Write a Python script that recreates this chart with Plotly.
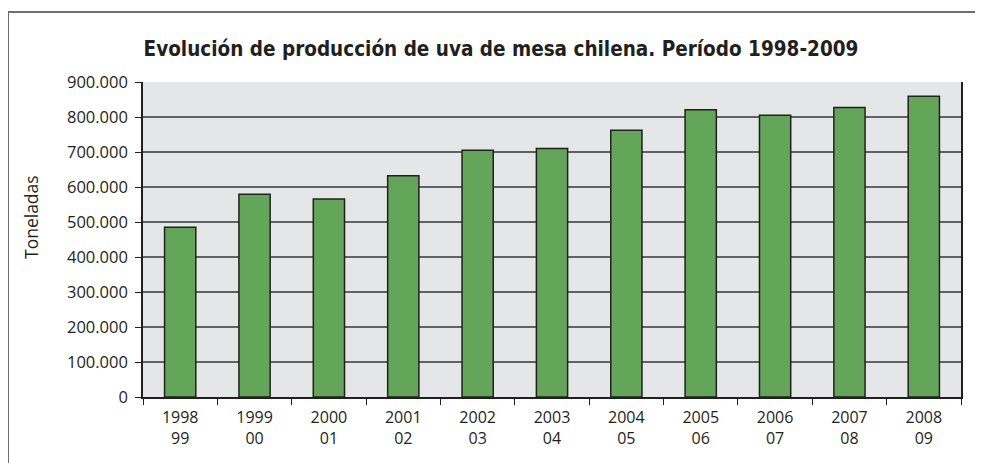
import plotly.graph_objects as go

temporadas = ["1998<br>99", "1999<br>00", "2000<br>01", "2001<br>02", "2002<br>03", "2003<br>04",
              "2004<br>05", "2005<br>06", "2006<br>07", "2007<br>08", "2008<br>09"]
toneladas = [485000, 579000, 566000, 632000, 705000, 710000, 762000, 821000, 805000, 827000, 859000]
y_ticks = [0, 100000, 200000, 300000, 400000, 500000, 600000, 700000, 800000, 900000]

titulo = "Evolución de producción de uva de mesa chilena. Período 1998-2009"
eje_y = "Toneladas"

# page offset of 8px (body margin) is compensated
OFF = 8
W, H = 983 - OFF, 463 - OFF
L, R, T, B = 143 - OFF, 22, 82 - OFF, 66
pw, ph = W - L - R, H - T - B

def px(xabs):
    return (xabs - OFF - L) / pw

def py(yabs):
    return 1 - (yabs - OFF - T) / ph

fig = go.Figure(go.Bar(
    x=temporadas, y=toneladas,
    marker=dict(color="#63a659", line=dict(color="#231f20", width=1.5)),
))

fig.update_layout(
    width=W, height=H,
    margin=dict(l=L, r=R, t=T, b=B),
    paper_bgcolor="white", plot_bgcolor="#e5e6e8",
    separators=",.",
    bargap=0.58,
    showlegend=False,
    font=dict(family="Open Sans, sans-serif", size=16, color="#231f20"),
    title=dict(text="<b>" + titulo + "</b>", x=px(501), xref="paper", xanchor="center",
               y=1 - (49 - OFF) / H, yanchor="middle",
               font=dict(family="DejaVu Sans Condensed, Liberation Sans Narrow, sans-serif", size=20.5, color="#231f20")),
    xaxis=dict(type="category", tickson="boundaries", ticks="outside", ticklen=6, tickcolor="#231f20",
               showline=True, linecolor="#231f20", linewidth=1.5, showgrid=False,
               tickfont=dict(size=16), range=[-0.5, 10.5], ticklabelstandoff=5),
    yaxis=dict(range=[0, 900000], tickvals=y_ticks, tickformat=",.0f", ticks="outside", ticklen=6,
               tickcolor="#231f20", showline=True, mirror=True, linecolor="#231f20", linewidth=1.5,
               showgrid=True, gridcolor="#606163", gridwidth=1.5, zeroline=False,
               tickfont=dict(size=16.5), ticklabelstandoff=4),
)

fig.add_annotation(text=eje_y, xref="paper", yref="paper", x=px(31), y=py(217),
                   textangle=-90, showarrow=False, xanchor="center", yanchor="middle",
                   font=dict(size=17.5, color="#231f20"))

# outer frame (left and top edges)
x0 = px(8)
y0 = py(12)
fig.add_shape(type="line", xref="paper", yref="paper", x0=x0, x1=x0, y0=y0, y1=py(480),
              line=dict(color="#6d6e71", width=2))
fig.add_shape(type="line", xref="paper", yref="paper", x0=x0, x1=px(1000), y0=y0, y1=y0,
              line=dict(color="#6d6e71", width=2))

fig.write_html("out.html")
